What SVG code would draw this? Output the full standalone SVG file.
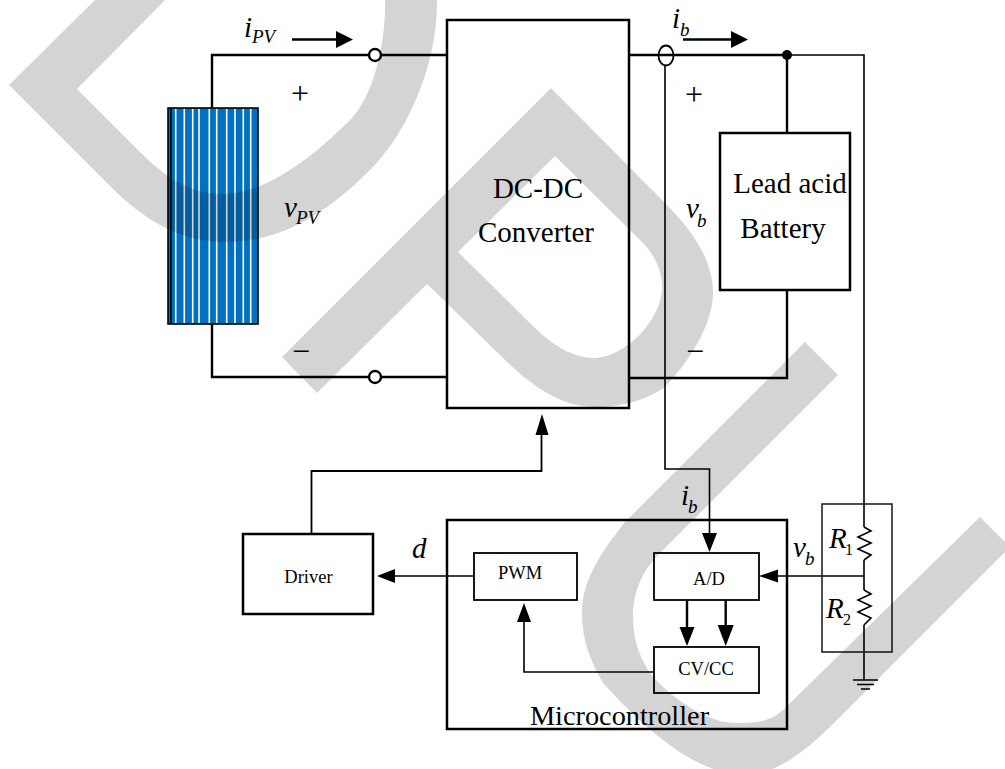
<svg xmlns="http://www.w3.org/2000/svg" width="1005" height="769" viewBox="0 0 1005 769">
<style>
text{font-family:"Liberation Serif","Times New Roman",serif;fill:#000}
.lbl{font-size:29px}
.sm{font-size:18.5px}
.v{font-size:29px;font-style:italic}
.s{font-size:19px;font-style:italic}
.mid{text-anchor:middle}
.sign{font-size:32px;text-anchor:middle}
.box{fill:none;stroke:#000;stroke-width:2.5}
.thin{fill:none;stroke:#000;stroke-width:1.6}
.mod{fill:none;stroke:#000;stroke-width:1.8}
.w{fill:none;stroke:#000;stroke-width:2.4}
.ah{fill:#000;stroke:none}
</style>
<rect width="1005" height="769" fill="#fff"/>
<g id="pv-panel">
<rect x="168" y="108" width="90" height="216" fill="#0070c0"/>
<path d="M175.7,109V323M184.3,109V323M192.7,109V323M199,109V323M209.3,109V323M216.7,109V323M226.7,109V323M235,109V323M243.3,109V323M250.7,109V323" stroke="#fff" stroke-width="1.6" fill="none"/>
<path d="M171,108V324" stroke="#000" stroke-width="1.6" fill="none"/>
<rect x="168" y="108" width="90" height="216" fill="none" stroke="#000" stroke-width="1.6"/>
</g>
<g id="connectors">
<path class="w" d="M212,108V55H369M381,55H447M212,324V377H369M381,377H447"/>
<path class="w" d="M629,55H787M787,55V133M629,378H787V290"/>
<path class="thin" d="M787,55H864V527M665,66V469H709.5V535M864,560V590M864,625V680"/>
<path class="mod" d="M311.5,534V471H541.5V432"/>
<path class="thin" d="M864,576H775M474,576H392M654,672H524V620"/>
<path class="w" d="M687,600V630M725.7,600V628M292,39.5H340M683,39.5H735"/>
<path class="ah" d="M353,39.5L336,31V48Z"/>
<path class="ah" d="M748,39.5L731,31V48Z"/>
<path class="ah" d="M709.5,552L702,533H717Z"/>
<path class="ah" d="M759,576L778,569.5V582.5Z"/>
<path class="ah" d="M377,576L395,569V583Z"/>
<path class="ah" d="M524,603L517,622H531Z"/>
<path class="ah" d="M542,414L535.5,435H548.5Z"/>
<path class="ah" d="M687,646L679.5,627H694.5Z"/>
<path class="ah" d="M725.7,646L717.7,625H733.7Z"/>
<circle cx="375" cy="55" r="6" fill="#fff" stroke="#000" stroke-width="2.4"/>
<circle cx="375" cy="377" r="6" fill="#fff" stroke="#000" stroke-width="2.4"/>
<circle cx="787" cy="55" r="5" fill="#000"/>
<ellipse cx="666" cy="55.5" rx="7.5" ry="10" fill="none" stroke="#000" stroke-width="1.8"/>
<path class="thin" d="M864,527L871,531L858,537L871,543L858,549L871,555L864,560M864,590L871,594L858,600L871,606L858,612L871,618L864,625"/>
<path class="thin" d="M853,680H878M857,684.5H874M861,689H870"/>
</g>
<g id="dcdc"><rect class="box" x="447" y="20" width="182" height="388"/>
<text class="lbl mid" x="538" y="198">DC-DC</text><text class="lbl mid" x="536" y="242">Converter</text></g>
<g id="battery"><rect class="box" x="720" y="133" width="130" height="157"/>
<text class="lbl mid" x="790" y="193">Lead acid</text><text class="lbl mid" x="783" y="238">Battery</text></g>
<g id="driver"><rect class="box" x="243" y="534" width="130" height="80"/>
<text class="sm mid" x="308.500" y="583">Driver</text></g>
<g id="microcontroller"><rect class="box" x="447" y="520" width="340" height="209"/>
<text class="lbl mid" x="619.500" y="725" style="font-size:28.300px">Microcontroller</text></g>
<g id="pwm"><rect class="mod" x="474" y="553" width="103" height="47"/>
<text class="sm mid" x="520" y="579">PWM</text></g>
<g id="ad"><rect class="mod" x="654" y="553" width="105" height="47"/>
<text class="sm mid" x="709" y="585">A/D</text></g>
<g id="cvcc"><rect class="mod" x="654" y="647" width="105" height="46"/>
<text class="sm mid" x="706" y="675">CV/CC</text></g>
<g id="divider"><rect x="822" y="504" width="70" height="148" fill="none" stroke="#222" stroke-width="1.600"/></g>
<g id="labels">
<text class="v" x="244" y="37">i</text><text class="s" x="252" y="43">PV</text>
<text class="v" x="284" y="217">v</text><text class="s" x="296" y="224">PV</text>
<text class="v" x="672" y="28">i</text><text class="s" x="680" y="36">b</text>
<text class="v" x="686" y="218">v</text><text class="s" x="697" y="227">b</text>
<text class="v" x="681" y="505">i</text><text class="s" x="688" y="513">b</text>
<text class="v" x="793" y="557">v</text><text class="s" x="805" y="565">b</text>
<text class="v" x="412" y="558">d</text>
<text class="v" x="829" y="548">R</text><text x="845" y="555" style="font-size:16px">1</text>
<text class="v" x="826" y="618">R</text><text x="843" y="625" style="font-size:16px">2</text>
<text class="sign" x="300" y="104">+</text>
<text class="sign" x="694" y="105">+</text>
<text class="sign" x="301" y="361.500">−</text>
<text class="sign" x="695" y="362">−</text>
</g>
<g id="watermark" fill="#000" fill-opacity=".17" fill-rule="evenodd">
<path d="M9,85L95,0H165L77,89L140,152C165,177 190,194 222,194C270,194 320,150 350,120C375,95 386,40 385,0H437C438,60 410,130 370,170C320,220 275,242 225,242C180,242 145,220 113,189Z"/>
<path d="M282,357L551,88L665,203C690,228 713,258 713,293C713,320 695,355 665,387C650,398 625,407 595,407C560,407 530,385 500,355L427,284L317,393ZM555,156L458,252L537,330C555,347 575,358 593,358C625,358 662,320 662,287C662,270 655,255 640,240Z"/>
<path d="M805,342L838,375L660,553C640,573 633,595 633,617C633,640 640,660 653,677C680,705 710,723 737,723C755,723 770,722 783,710L980,517L1010,547L835,722C805,752 775,775 745,775C700,775 650,735 603,683C590,660 582,640 582,613C582,585 595,560 625,522Z"/>
</g>
</svg>
